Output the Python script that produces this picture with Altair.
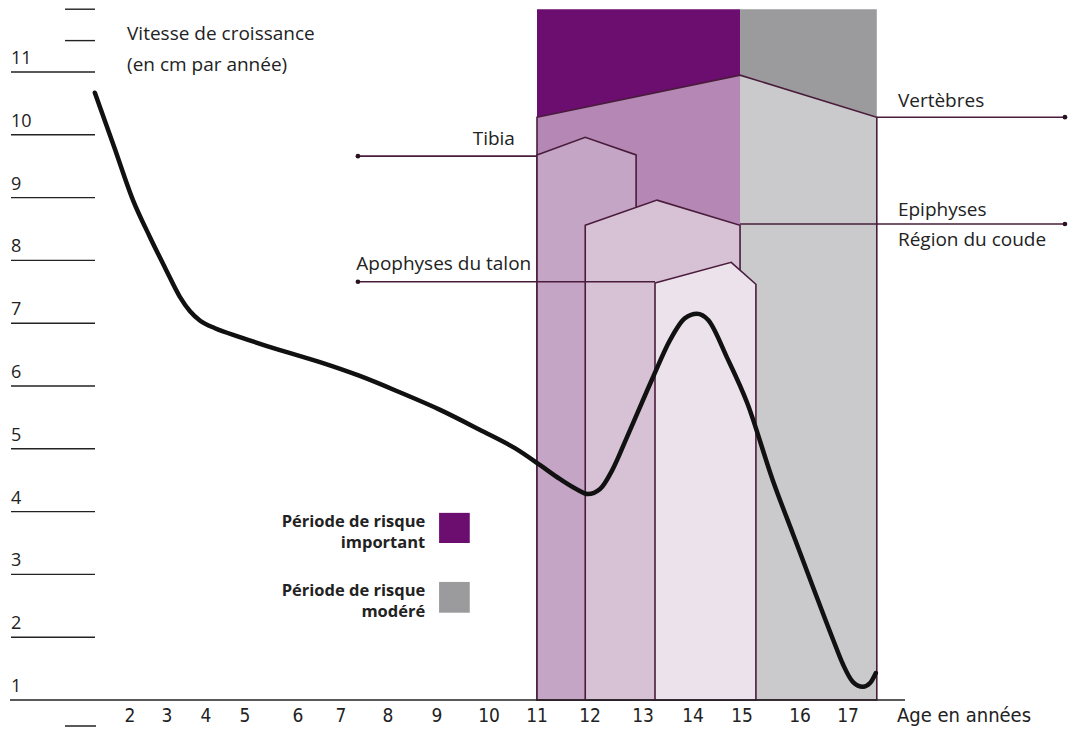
import altair as alt
import pandas as pd

# ---------------- data ----------------
AGE_TICKS = list(range(2, 18))
SPEED_TICKS = list(range(1, 12))
SHORT_TICKS = [11.5, 12.0]

curve_age = [1.05, 1.57, 2.08, 2.54, 2.95, 3.33, 3.59, 3.85, 4.23, 4.87, 5.66, 6.51,
             7.40, 8.24, 9.06, 9.83, 10.54, 11.06, 11.43, 11.74, 11.96, 12.19, 12.42,
             12.70, 13.2, 13.54, 13.84, 14.08, 14.31, 14.69, 15.09, 15.53, 15.88,
             16.27, 16.69, 16.90, 17.10, 17.31, 17.46, 17.58]
curve_speed = [10.67, 9.81, 8.96, 8.37, 7.88, 7.42, 7.19, 7.04, 6.92, 6.78, 6.57, 6.38,
               6.16, 5.90, 5.62, 5.30, 5.01, 4.74, 4.52, 4.36, 4.28, 4.36, 4.66,
               5.19, 6.14, 6.73, 7.08, 7.15, 7.05, 6.46, 5.73, 4.50, 3.64,
               2.80, 1.96, 1.56, 1.29, 1.21, 1.27, 1.43]

# risk periods (age start, age end)
risk_important = [11.0, 14.96]
risk_modere = [14.96, 17.6]
risk_top = 12.0

# growth-zone shapes: top outline (age, speed)
vert_age = [11.0, 14.96, 17.6]
vert_top = [10.28, 10.95, 10.28]
tibia_age = [11.0, 11.91, 12.87]
tibia_top = [9.68, 9.96, 9.68]
epi_age = [11.91, 13.28, 14.96]
epi_top = [8.56, 8.96, 8.56]
apo_age = [13.24, 14.78, 15.24]
apo_top = [7.64, 7.97, 7.62]

# leader lines
lead_name = ["Tibia", "Apophyses", "Vertèbres", "Epiphyses"]
lead_x1 = [7.36, 7.36, 17.6, 14.96]
lead_x2 = [11.0, 13.24, 21.52, 21.52]
lead_y = [9.66, 7.66, 10.28, 8.58]
lead_dot = [7.36, 7.36, 21.52, 21.52]

# text annotations
ann_text = ["Vitesse de croissance", "(en cm par année)", "Tibia", "Apophyses du talon",
            "Vertèbres", "Epiphyses", "Région du coude"]
ann_x = [1.92, 1.92, 10.54, 10.88, 18.04, 18.04, 18.04]
ann_y = [11.51, 11.02, 9.84, 7.85, 10.44, 8.71, 8.23]
ann_align = ["left", "left", "right", "right", "left", "left", "left"]

leg_text = ["Période de risque", "important", "Période de risque", "modéré"]
leg_y = [3.75, 3.42, 2.66, 2.32]
leg_x = 8.76
leg_box_x = [9.04, 9.63]
leg_box_imp = [3.50, 3.98]
leg_box_mod = [2.39, 2.88]

# ---------------- styling ----------------
C_DARK_PURPLE = "#6c0d70"
C_DARK_GREY = "#9b9b9d"
C_VERT_PURPLE = "#b487b5"
C_VERT_GREY = "#cacacc"
C_TIBIA = "#c4a5c5"
C_EPI = "#d6c1d5"
C_APO = "#ece2eb"
C_EDGE = "#4a1c3c"
C_TEXT = "#222222"
FONT = "Open Sans, Noto Sans, sans-serif"
FONT_NARROW = "Liberation Sans Narrow, DejaVu Sans Condensed, Roboto Condensed, Roboto, sans-serif"

xs = alt.Scale(domain=AGE_TICKS,
               range=[122, 159, 198, 237, 290, 333, 380, 429, 481, 529, 582, 635, 685, 734, 792, 840],
               nice=False, zero=False)
ys = alt.Scale(domain=[1, 11], range=[692, 64], nice=False, zero=False)

X = lambda f: alt.X(f, type="quantitative", scale=xs, axis=None)
Y = lambda f: alt.Y(f, type="quantitative", scale=ys, axis=None)

layers = []

# risk-period backgrounds
risk_df = pd.DataFrame({"a0": [risk_important[0], risk_modere[0]],
                        "a1": [risk_important[1], risk_modere[1]],
                        "kind": ["important", "modere"],
                        "b": [1, 1], "t": [risk_top, risk_top]})
layers.append(alt.Chart(risk_df).mark_rect().encode(
    x=X("a0"), x2="a1", y=Y("b"), y2="t",
    color=alt.Color("kind:N", scale=alt.Scale(domain=["important", "modere"],
                                              range=[C_DARK_PURPLE, C_DARK_GREY]), legend=None)))


def area(ages, tops, fill, stroke=None, opacity=1.0):
    df = pd.DataFrame({"age": ages, "top": tops, "base": [1] * len(ages)})
    kw = dict(fill=fill, fillOpacity=opacity)
    if stroke:
        kw.update(stroke=stroke, strokeWidth=1.6)
    return alt.Chart(df).mark_area(**kw).encode(
        x=X("age"), y=alt.Y("top", type="quantitative", scale=ys, axis=None, stack=None), y2="base")


# vertèbres zone (split colour at risk boundary)
layers.append(area(vert_age[:2], vert_top[:2], C_VERT_PURPLE))
layers.append(area(vert_age[1:], vert_top[1:], C_VERT_GREY))
layers.append(area(vert_age, vert_top, "white", stroke=C_EDGE, opacity=0.0))
layers.append(area(tibia_age, tibia_top, C_TIBIA, stroke=C_EDGE))
layers.append(area(epi_age, epi_top, C_EPI, stroke=C_EDGE))
layers.append(area(apo_age, apo_top, C_APO, stroke=C_EDGE))

# leader lines + dots
lead_df = pd.DataFrame({"name": lead_name, "x1": lead_x1, "x2": lead_x2, "y": lead_y, "dot": lead_dot})
layers.append(alt.Chart(lead_df).mark_rule(color=C_EDGE, strokeWidth=1.6).encode(
    x=X("x1"), x2="x2", y=Y("y")))
layers.append(alt.Chart(lead_df).mark_circle(color="#2a1020", size=22, opacity=1).encode(
    x=X("dot"), y=Y("y")))

# growth curve
curve_df = pd.DataFrame({"age": curve_age, "speed": curve_speed})
layers.append(alt.Chart(curve_df).mark_line(color="#111111", strokeWidth=4.5,
                                            interpolate="monotone", strokeCap="round").encode(
    x=X("age"), y=Y("speed")))

# x axis baseline
base_df = pd.DataFrame({"v": [1]})
layers.append(alt.Chart(base_df).mark_rule(color="#222", strokeWidth=1.5).encode(
    x=alt.value(2), x2=alt.value(897), y=Y("v")))

# y ticks (lines with label above)
yt_df = pd.DataFrame({"v": SPEED_TICKS[1:]})
layers.append(alt.Chart(yt_df).mark_rule(color="#222", strokeWidth=1.4).encode(
    x=alt.value(3), x2=alt.value(87), y=Y("v")))
st_df = pd.DataFrame({"v": SHORT_TICKS})
layers.append(alt.Chart(st_df).mark_rule(color="#222", strokeWidth=1.4).encode(
    x=alt.value(57), x2=alt.value(87), y=Y("v")))
yl_df = pd.DataFrame({"v": SPEED_TICKS, "lab": [str(v) for v in SPEED_TICKS]})
layers.append(alt.Chart(yl_df).mark_text(align="left", baseline="alphabetic", dy=-8,
                                         font=FONT, fontSize=18, color=C_TEXT).encode(
    x=alt.value(3), y=Y("v"), text="lab:N"))

# x tick labels
xl_df = pd.DataFrame({"a": AGE_TICKS, "lab": [str(a) for a in AGE_TICKS]})
layers.append(alt.Chart(xl_df).mark_text(align="center", baseline="alphabetic",
                                         font=FONT_NARROW, fontSize=19, color=C_TEXT).encode(
    x=X("a"), y=alt.value(714), text="lab:N"))
layers.append(alt.Chart(base_df).mark_rule(color="#222", strokeWidth=1.5).encode(
    x=alt.value(57), x2=alt.value(88), y=alt.value(718)))
layers.append(alt.Chart(pd.DataFrame({"t": ["Age en années"]})).mark_text(
    align="left", baseline="alphabetic", font=FONT_NARROW, fontSize=20, color=C_TEXT).encode(
    x=alt.value(889), y=alt.value(714), text="t:N"))

# annotations
ann_df = pd.DataFrame({"x": ann_x, "y": ann_y, "t": ann_text, "al": ann_align})
for al in ["left", "right"]:
    layers.append(alt.Chart(ann_df[ann_df["al"] == al]).mark_text(
        align=al, baseline="alphabetic", font=FONT, fontSize=19, color=C_TEXT).encode(
        x=X("x"), y=Y("y"), text="t:N"))

# legend
leg_df = pd.DataFrame({"y": leg_y, "t": leg_text, "x": [leg_x] * 4})
layers.append(alt.Chart(leg_df).mark_text(align="right", baseline="alphabetic", font=FONT,
                                          fontSize=16.5, fontWeight="bold", color=C_TEXT).encode(
    x=X("x"), y=Y("y"), text="t:N"))
box_df = pd.DataFrame({"x0": [leg_box_x[0]] * 2, "x1": [leg_box_x[1]] * 2,
                       "y0": [leg_box_imp[0], leg_box_mod[0]], "y1": [leg_box_imp[1], leg_box_mod[1]],
                       "kind": ["important", "modere"]})
layers.append(alt.Chart(box_df).mark_rect().encode(
    x=X("x0"), x2="x1", y=Y("y0"), y2="y1",
    color=alt.Color("kind:N", scale=alt.Scale(domain=["important", "modere"],
                                              range=[C_DARK_PURPLE, "#8f8f91"]), legend=None)))

chart = alt.layer(*layers).properties(
    width=1060, height=720, padding=0, autosize=alt.AutoSizeParams(type="none"),
    background="white"
).configure_view(stroke=None)

chart.save("out.html", embed_options={"renderer": "svg", "actions": False})
